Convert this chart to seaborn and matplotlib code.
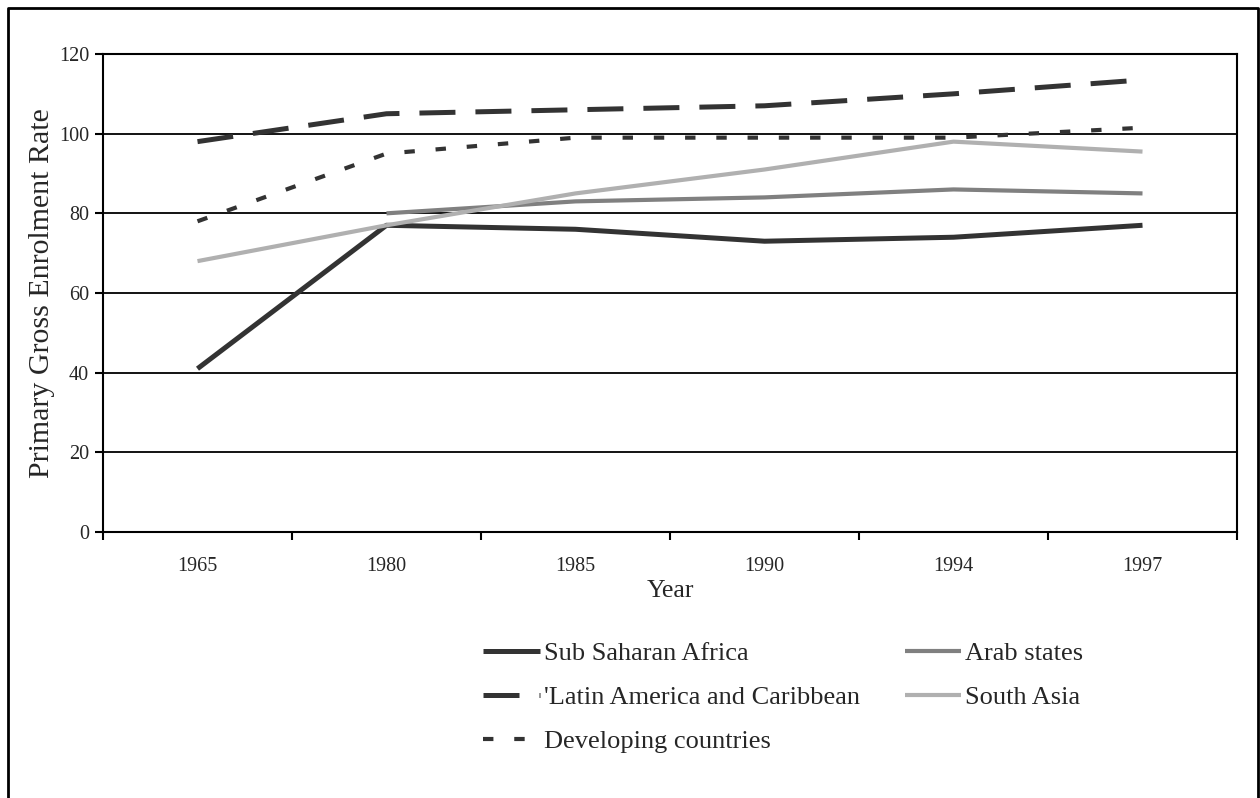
import numpy as np
import pandas as pd
import matplotlib
matplotlib.use("Agg")
import matplotlib.pyplot as plt
import seaborn as sns
from matplotlib.lines import Line2D

# Data
years = ["1965", "1980", "1985", "1990", "1994", "1997"]
sub_saharan = [41, 77, 76, 73, 74, 77]
arab_states = [np.nan, 80, 83, 84, 86, 85]
latin_america = [98, 105, 106, 107, 110, 113.5]
south_asia = [68, 77, 85, 91, 98, 95.5]
developing = [78, 95, 99, 99, 99, 101.5]

sns.set_theme(style="white")
plt.rcParams['font.family'] = ['Liberation Serif', 'DejaVu Serif']

fig = plt.figure(figsize=(12.6, 7.98), dpi=100)
ax = fig.add_axes([103 / 1260, 1 - 532 / 798, 1134 / 1260, 478 / 798])

pos = np.arange(len(years))
series = [
    ("Sub Saharan Africa", sub_saharan, "#333333", 3.6, None),
    ("'Latin America and Caribbean", latin_america, "#333333", 3.6, (7.2, 4.0)),
    ("Developing countries", developing, "#333333", 3.0, (2.5, 5.0)),
    ("Arab states", arab_states, "#808080", 3.0, None),
    ("South Asia", south_asia, "#b0b0b0", 3.0, None),
]

handles = []
for name, vals, col, lw, dash in series:
    df = pd.DataFrame({"x": pos, "y": vals}).dropna()
    sns.lineplot(data=df, x="x", y="y", ax=ax, color=col, linewidth=lw,
                 solid_capstyle="butt", dash_capstyle="butt")
    line = ax.get_lines()[-1]
    if dash is not None:
        line.set_dashes(dash)
    h = Line2D([], [], color=col, linewidth=lw, solid_capstyle="butt", dash_capstyle="butt")
    if dash is not None:
        h.set_dashes(dash)
    handles.append((h, name))

ax.set_xlim(-0.5, len(years) - 0.5)
ax.set_ylim(0, 120)
ax.set_yticks(np.arange(0, 121, 20))
ax.set_xticks(np.arange(-0.5, len(years), 1.0))
ax.set_xticklabels([])
ax.set_xticks(pos, minor=True)
ax.set_xticklabels(years, minor=True)
ax.tick_params(axis="x", which="major", direction="out", length=6, width=1.5, color="black", bottom=True)
ax.tick_params(axis="x", which="minor", length=0, labelsize=14.5, pad=18)
ax.tick_params(axis="y", direction="out", length=6, width=1.5, color="black", left=True, labelsize=14.5, pad=4)
ax.grid(axis="y", color="black", linewidth=1.3)
ax.grid(axis="x", visible=False)
for s in ax.spines.values():
    s.set_color("black")
    s.set_linewidth(1.5)

ax.set_xlabel("Year", fontsize=18.5, labelpad=3)
ax.set_ylabel("Primary Gross Enrolment Rate", fontsize=21.5, labelpad=3)

fig.legend([h for h, _ in handles], [n for _, n in handles], ncol=2,
           loc="upper left", bbox_to_anchor=(483 / 1260, 1 - 642 / 798),
           frameon=False, fontsize=19, handlelength=2.15, handletextpad=0.15,
           columnspacing=1.7, labelspacing=0.77, borderpad=0, borderaxespad=0)

# outer frame of the chart
fig.add_artist(plt.Line2D([8 / 1260, 1258 / 1260, 1258 / 1260, 8 / 1260, 8 / 1260],
                          [-0.01, -0.01, 1 - 8 / 798, 1 - 8 / 798, -0.01],
                          color="black", linewidth=2, transform=fig.transFigure))

fig.savefig("out.png", dpi=100)
